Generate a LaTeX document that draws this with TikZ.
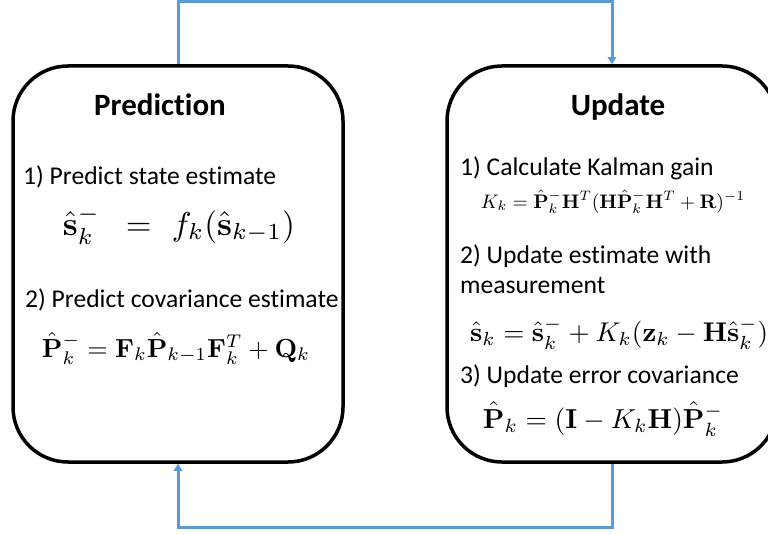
\RequirePackage{fix-cm}
\documentclass[tikz,border=0pt]{standalone}
\usepackage{amsmath}
\usepackage{graphicx}
\usepackage[no-math]{fontspec}
\setmainfont[Ligatures=NoCommon]{Carlito}
\usetikzlibrary{arrows.meta}
\definecolor{lineblue}{HTML}{5B9BD5}
\tikzset{
  stagebox/.style={draw=black, line width=3.5pt, rounded corners=55pt, minimum width=330pt, minimum height=396pt, inner sep=0pt},
  conn/.style={draw=lineblue, line width=3pt, -{Triangle[width=8.5pt,length=7pt]}},
  head/.style={font=\fontsize{31}{35}\selectfont\bfseries, anchor=base, inner sep=0pt},
  txt/.style={font=\fontsize{25.6}{29}\selectfont, anchor=base west, inner sep=0pt},
  eq/.style={anchor=base, inner sep=0pt}
}
\begin{document}
\begin{tikzpicture}[x=1pt,y=-1pt]
\useasboundingbox (0,0) rectangle (768,535);
\clip (0,0) rectangle (768,535);
\node[stagebox] (pred) at (178,264) {};
\node[stagebox] (upd) at (612,264) {};
\coordinate (topmid) at (400,2);
\coordinate (botmid) at (400,527);
\draw[conn] (pred.north) |- (topmid) -| (upd.north);
\draw[conn] (upd.south) |- (botmid) -| (pred.south);
% Prediction
\node[head] (ph) at (160,115) {Prediction};
\node[txt] (p1) at (23,184) {1) Predict state estimate};
\node[eq] (pe1) at (179,235) {\resizebox{232pt}{!}{$\hat{\mathbf{s}}_k^- \mskip 9mu=\mskip 6mu f_k(\hat{\mathbf{s}}_{k-1})$}};
\node[txt] (p2) at (25,307) {2) Predict covariance estimate};
\node[eq] (pe2) at (176,357) {\resizebox{268pt}{!}{$\hat{\mathbf{P}}_k^- = \mathbf{F}_k\hat{\mathbf{P}}_{k-1}\mathbf{F}_k^T + \mathbf{Q}_k$}};
% Update
\node[head] (uh) at (618,115) {Update};
\node[txt] (u1) at (460,175) {1) Calculate Kalman gain};
\node[eq] (ue1) at (613,208) {\resizebox{264pt}{!}{$K_k = \hat{\mathbf{P}}_k^-\mathbf{H}^T(\mathbf{H}\hat{\mathbf{P}}_k^-\mathbf{H}^T + \mathbf{R})^{-1}$}};
\node[txt] (u2) at (460,263) {2) Update estimate with};
\node[txt] (u2b) at (460,293) {measurement};
\node[eq, anchor=base west] (ue2) at (470,341) {\resizebox{298pt}{!}{$\hat{\mathbf{s}}_k = \hat{\mathbf{s}}_k^- + K_k(\mathbf{z}_k - \mathbf{H}\hat{\mathbf{s}}_k^-)$}};
\node[txt] (u3) at (460,383) {3) Update error covariance};
\node[eq] (ue3) at (603,428) {\resizebox{240pt}{!}{$\hat{\mathbf{P}}_k = (\mathbf{I} - K_k\mathbf{H})\hat{\mathbf{P}}_k^-$}};
\end{tikzpicture}
\end{document}
